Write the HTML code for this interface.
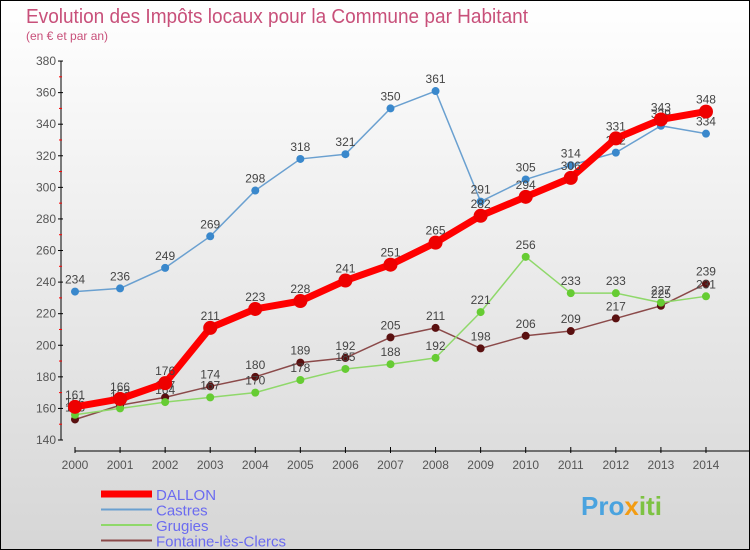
<!DOCTYPE html><html><head><meta charset="utf-8"><style>
body{margin:0}
#c{width:748px;height:548px;border:1px solid #000;background:linear-gradient(#ffffff,#d6d6d6);position:relative;overflow:hidden;font-family:"Liberation Sans",sans-serif}
</style></head><body><div id="c">
<svg id="s" width="748" height="548" style="position:absolute;left:0;top:0"></svg>
</div>
<script>
const S=document.getElementById('s');let h='';
const X=i=>74+i*45.07, Y=v=>439-(v-140)*1.579;
h+='<text x="25" y="22" font-size="20" fill="#c8507a" textLength="502" lengthAdjust="spacingAndGlyphs">Evolution des Impôts locaux pour la Commune par Habitant</text>';
h+='<text x="25" y="39" font-size="12" fill="#c8507a">(en € et par an)</text>';
h+='<line x1="60" y1="60" x2="60" y2="439" stroke="#000"/>';
for(let v=140;v<=380;v+=20){const y=Y(v);h+=`<line x1="57" x2="62" y1="${y}" y2="${y}" stroke="#000"/><text x="55" y="${y+4}" font-size="12" fill="#555" text-anchor="end">${v}</text>`;if(v<380)h+=`<line x1="58" x2="61" y1="${y-15.8}" y2="${y-15.8}" stroke="red"/>`}
h+='<line x1="74" y1="450" x2="748" y2="450" stroke="#000"/>';
for(let i=0;i<15;i++){h+=`<line x1="${X(i)}" x2="${X(i)}" y1="446" y2="452" stroke="#000"/><text x="${X(i)}" y="468" font-size="12" fill="#555" text-anchor="middle">${2000+i}</text>`}
const D=[
["#8b4a4a",1.5,4,"#5a1010",[153,162,167,174,180,189,192,205,211,198,206,209,217,225,239]],
["#8fd86a",1.5,4,"#66cc33",[156,160,164,167,170,178,185,188,192,221,256,233,233,227,231]],
["#6aa0d0",1.5,4,"#3a88cc",[234,236,249,269,298,318,321,350,361,291,305,314,322,339,334]],
["#ff0000",7,7,"#ee0000",[161,166,176,211,223,228,241,251,265,282,294,306,331,343,348]]];
for(const [c,w,r,f,d] of D){h+=`<polyline fill="none" stroke="${c}" stroke-width="${w}" stroke-linejoin="round" points="${d.map((v,i)=>X(i)+','+Y(v)).join(' ')}"/>`;
d.forEach((v,i)=>{h+=`<circle cx="${X(i)}" cy="${Y(v)}" r="${r}" fill="${f}"/><text x="${X(i)}" y="${Y(v)-8}" font-size="12" fill="#444" text-anchor="middle">${v}</text>`})}
const L=[["DALLON","#ff0000",7],["Castres","#6aa0d0",2],["Grugies","#8fd86a",2],["Fontaine-lès-Clercs","#8b4a4a",2]];
L.forEach((l,i)=>{const y=493+i*15.5;h+=`<line x1="100" x2="151" y1="${y}" y2="${y}" stroke="${l[1]}" stroke-width="${l[2]}"/><text x="155" y="${y+6}" font-size="15" fill="#6b6bf0">${l[0]}</text>`});
h+='<text x="580" y="514" font-size="26" font-weight="bold" fill="#4aa3df">Pro<tspan fill="#f39c12">x</tspan><tspan fill="#7dc242">iti</tspan></text>';
S.innerHTML=h;
</script></body></html>
